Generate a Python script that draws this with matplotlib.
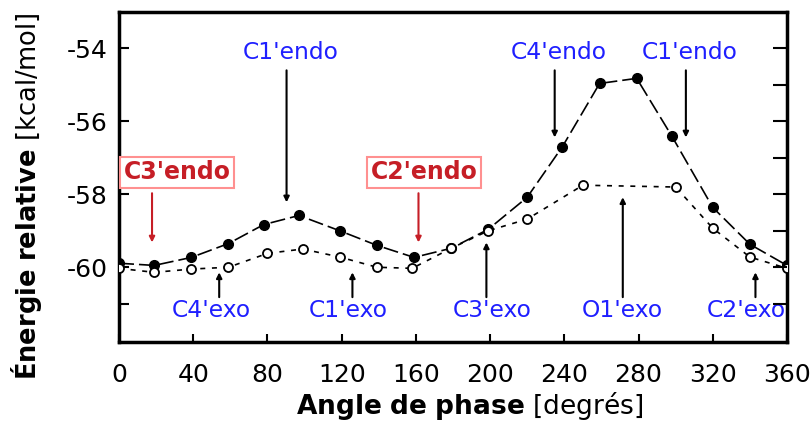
import matplotlib
matplotlib.use('Agg')
import matplotlib.pyplot as plt

plt.rcParams['font.family'] = ['DejaVu Sans']
plt.rcParams['mathtext.fontset'] = 'dejavusans'
plt.rcParams['axes.unicode_minus'] = False

# ── data ─────────────────────────────────────
# filled circles
phase_full = [0, 19, 39, 59, 78, 97, 119, 139, 159, 179, 199, 220, 239, 259, 279, 298, 320, 340, 360]
energy_full = [-59.89, -59.95, -59.73, -59.35, -58.83, -58.58, -59.0, -59.4, -59.73, -59.48,
               -58.96, -58.08, -56.69, -54.96, -54.82, -56.41, -58.36, -59.37, -59.95]

# open circles
phase_open = [0, 19, 39, 59, 80, 99, 119, 139, 158, 179, 199, 220, 250, 300, 320, 340, 360]
energy_open = [-60.03, -60.14, -60.05, -60.0, -59.62, -59.5, -59.72, -60.0, -60.03, -59.48,
               -59.0, -58.68, -57.75, -57.8, -58.93, -59.72, -60.03]

# conformation labels: name, arrow x, arrow tip y
top_labels = ["C1'endo", "C4'endo", "C1'endo"]
top_x = [90.3, 234.8, 305.5]
top_tip = [-58.22, -56.44, -56.44]

bottom_labels = ["C4'exo", "C1'exo", "C3'exo", "O1'exo", "C2'exo"]
bottom_x = [54, 125.8, 198, 271.5, 343]
bottom_tip = [-60.14, -60.14, -59.32, -58.08, -60.14]
bottom_text_x = [49.5, 123.5, 201, 271.5, 338]

red_labels = ["C3'endo", "C2'endo"]
red_x = [17.8, 161.4]
red_text_x = [31.3, 164.5]

blue = '#1f1fff'
red = '#c61e26'

fig = plt.figure(figsize=(8.11, 4.25), dpi=100)
ax = fig.add_axes([119 / 811, 83 / 425, 668 / 811, 330 / 425])

ax.plot(phase_full, energy_full, color='black', lw=1.2, ls=(0, (9, 3)),
        marker='o', ms=7, mfc='black', mec='black', zorder=3)
ax.plot(phase_open, energy_open, color='black', lw=1.2, ls=(0, (3, 4)),
        marker='o', ms=6.5, mfc='white', mec='black', mew=1.3, zorder=3)

# black arrows, labels above
for name, x, tip in zip(top_labels, top_x, top_tip):
    ax.annotate('', xy=(x, tip), xytext=(x, -54.6),
                arrowprops=dict(arrowstyle='-|>', color='black', lw=1.5,
                                mutation_scale=8, shrinkA=0, shrinkB=0))
    ax.text(x + 2, -54.11, name, color=blue, fontsize=16.8, ha='center', va='center')

# black arrows, labels below
for name, x, tip, tx in zip(bottom_labels, bottom_x, bottom_tip, bottom_text_x):
    ax.annotate('', xy=(x, tip), xytext=(x, -60.82),
                arrowprops=dict(arrowstyle='-|>', color='black', lw=1.5,
                                mutation_scale=8, shrinkA=0, shrinkB=0))
    ax.text(tx, -61.18, name, color=blue, fontsize=16.8, ha='center', va='center')

# red boxed labels
for name, x, tx in zip(red_labels, red_x, red_text_x):
    ax.annotate('', xy=(x, -59.32), xytext=(x, -57.97),
                arrowprops=dict(arrowstyle='-|>', color=red, lw=1.5,
                                mutation_scale=8, shrinkA=0, shrinkB=0))
    ax.text(tx, -57.4, name, color=red, fontsize=17, fontweight='bold',
            ha='center', va='center',
            bbox=dict(boxstyle='square,pad=0.15', fc='white', ec='#ff9090', lw=1.5))

ax.set_xlim(0, 360)
ax.set_ylim(-62.05, -53.0)
ax.set_xticks(range(0, 361, 40))
ax.set_yticks([-54, -56, -58, -60])
ax.set_yticks([-61], minor=True)
ax.tick_params(axis='x', direction='in', length=6, width=1.5, pad=15, labelsize=18)
ax.tick_params(axis='y', which='both', direction='in', length=7, width=1.5, pad=8, labelsize=18)

for s in ax.spines.values():
    s.set_linewidth(2.5)

# ticks on the right spine, every unit
ax2 = ax.twinx()
ax2.set_ylim(ax.get_ylim())
ax2.set_yticks(range(-61, -53))
ax2.tick_params(axis='y', direction='in', length=10, width=1.5, labelright=False)
for s in ax2.spines.values():
    s.set_visible(False)

fig.text(470 / 811, 1 - 406 / 425, r'$\mathbf{Angle\ de\ phase}$ [degrés]',
         fontsize=19, ha='center', va='center')
fig.text(27 / 811, 1 - 196 / 425, r'$\mathbf{Énergie\ relative}$ [kcal/mol]',
         fontsize=18.5, ha='center', va='center', rotation=90)

plt.savefig('out.png', dpi=100)
